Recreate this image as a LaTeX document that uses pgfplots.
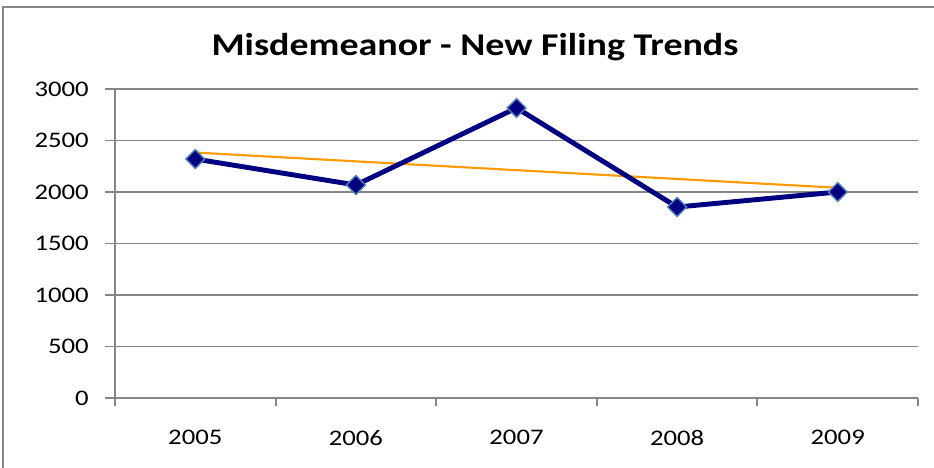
\documentclass[border=0pt]{standalone}
\usepackage{pgfplots}
\pgfplotsset{compat=1.18}
\usepackage{fontspec}
\setmainfont{Carlito}[FakeStretch=1.2]
\definecolor{seriesblue}{HTML}{000080}
\definecolor{markedge}{HTML}{4F81BD}
\definecolor{trendorange}{HTML}{FF9900}
\definecolor{gridgray}{HTML}{868686}

\begin{document}
\begin{tikzpicture}
% page frame (px * 0.015cm)
\path[use as bounding box] (0,0) rectangle (14.01,7.02);
\draw[gridgray, line width=0.8pt] (0.045,0) -- (0.045,6.915) -- (14.2,6.915);
\node[font=\fontsize{13.5}{16}\selectfont\bfseries] at (7.125,6.31) {Misdemeanor - New Filing Trends};
\begin{axis}[
  at={(1.725cm,1.05cm)}, anchor=south west,
  scale only axis, width=12.045cm, height=4.635cm,
  xmin=-0.5, xmax=4.5, ymin=0, ymax=3000,
  xtick={0,1,2,3,4}, xticklabels={2005,2006,2007,2008,2009},
  minor xtick={-0.5,0.5,1.5,2.5,3.5,4.5},
  ytick={0,500,1000,1500,2000,2500,3000},
  axis x line*=bottom, axis y line*=left,
  axis line style={gridgray, line width=0.8pt, -},
  ymajorgrids, grid style={gridgray, line width=0.8pt},
  tick align=outside,
  x tick style={draw=none},
  minor x tick style={draw=gridgray, line width=0.8pt},
  minor tick length=0.12cm,
  y tick style={gridgray, line width=0.8pt},
  major tick length=0.15cm,
  tick label style={font=\fontsize{9.5}{11}\selectfont},
  xticklabel style={yshift=-0.21cm},
  yticklabel style={xshift=-0.12cm},
  /pgf/number format/assume math mode=true,
  /pgf/number format/1000 sep={},
  clip=false,
]
\addplot[trendorange, line width=0.9pt] coordinates {(0,2383) (4,2041)};
\addplot[seriesblue, line width=2.1pt, mark=square*, mark size=2.85pt,
  mark options={rotate=45, fill=seriesblue, draw=markedge, line width=0.6pt}]
  coordinates {(0,2320) (1,2068) (2,2816) (3,1854) (4,2000)};
\end{axis}
\end{tikzpicture}
\end{document}
